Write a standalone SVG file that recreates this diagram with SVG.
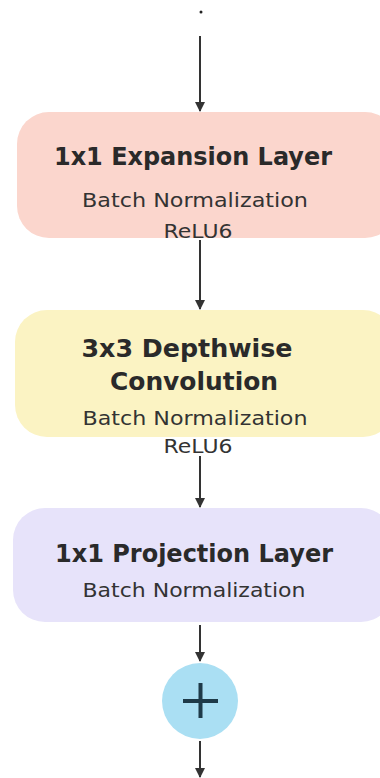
<svg xmlns="http://www.w3.org/2000/svg" width="380" height="778" viewBox="0 0 380 778">
<style>
.t{font-family:"DejaVu Sans","Liberation Sans",Arial,sans-serif;fill:#2a2a2a;text-anchor:middle}
.h{font-size:24px;font-weight:bold}
.s{font-size:20px;fill:#333}
.c{stroke:#333;stroke-width:2;fill:none}
</style>
<defs>
<marker id="ah" viewBox="0 0 10 10" refX="9" refY="5" markerWidth="5" markerHeight="5" orient="auto">
<path d="M0,0 L10,5 L0,10 z" fill="#333"/>
</marker>
</defs>
<rect width="380" height="778" fill="#fff"/>
<circle cx="201" cy="12" r="1.5" fill="#222"/>
<g id="connectors">
<line class="c" x1="200" y1="36" x2="200" y2="111" marker-end="url(#ah)"/>
<line class="c" x1="200" y1="240" x2="200" y2="309" marker-end="url(#ah)"/>
<line class="c" x1="200" y1="456" x2="200" y2="507" marker-end="url(#ah)"/>
<line class="c" x1="200" y1="625" x2="200" y2="661" marker-end="url(#ah)"/>
<line class="c" x1="200" y1="741" x2="200" y2="777" marker-end="url(#ah)"/>
</g>
<g id="expansion">
<rect x="17" y="112" width="380" height="126" rx="32" fill="#fbd6cd"/>
<text class="t h" x="193" y="165" textLength="278" lengthAdjust="spacingAndGlyphs">1x1 Expansion Layer</text>
<text class="t s" x="195" y="207" textLength="226" lengthAdjust="spacingAndGlyphs">Batch Normalization</text>
<text class="t s" x="198" y="238" textLength="69" lengthAdjust="spacingAndGlyphs">ReLU6</text>
</g>
<g id="depthwise">
<rect x="15" y="310" width="380" height="127" rx="32" fill="#fbf3c3"/>
<text class="t h" x="187" y="357" textLength="211" lengthAdjust="spacingAndGlyphs">3x3 Depthwise</text>
<text class="t h" x="194" y="390" textLength="168" lengthAdjust="spacingAndGlyphs">Convolution</text>
<text class="t s" x="195" y="425" textLength="225" lengthAdjust="spacingAndGlyphs">Batch Normalization</text>
<text class="t s" x="198" y="453" textLength="69" lengthAdjust="spacingAndGlyphs">ReLU6</text>
</g>
<g id="projection">
<rect x="13" y="508" width="380" height="114" rx="32" fill="#e7e3fa"/>
<text class="t h" x="194" y="562" textLength="278" lengthAdjust="spacingAndGlyphs">1x1 Projection Layer</text>
<text class="t s" x="194" y="597" textLength="223" lengthAdjust="spacingAndGlyphs">Batch Normalization</text>
</g>
<g id="add">
<circle cx="200" cy="701" r="38" fill="#aadff3"/>
<path d="M183 701 H218 M200.5 683 V718" stroke="#1e3a48" stroke-width="4"/>
</g>
</svg>
